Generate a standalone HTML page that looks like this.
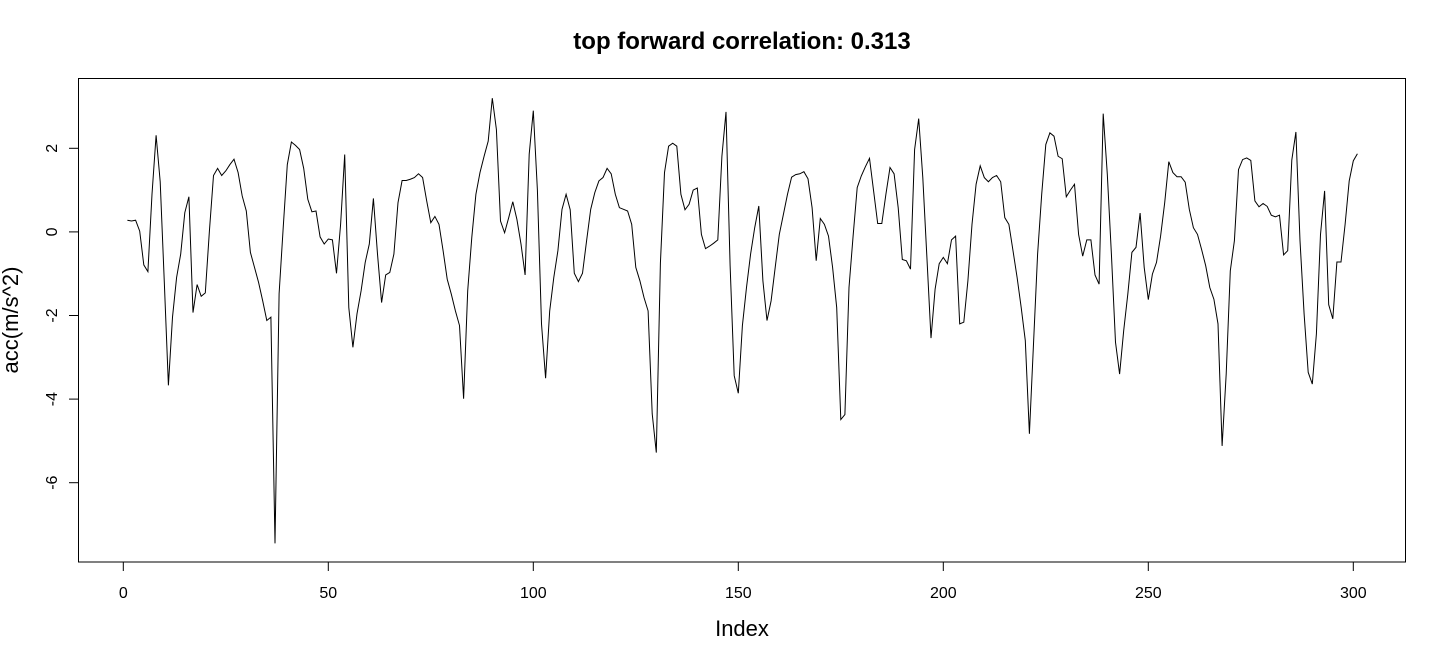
<!DOCTYPE html>
<html><head><meta charset="utf-8">
<style>
html,body{margin:0;padding:0;background:#fff;}
svg{display:block;font-family:"Liberation Sans",Arial,sans-serif;}
</style></head>
<body>
<svg id="chart" width="1446" height="660" viewBox="0 0 1446 660" xmlns="http://www.w3.org/2000/svg">
<text x="742" y="49" text-anchor="middle" font-size="24" font-weight="bold">top forward correlation: 0.313</text>
<rect x="78.5" y="78.5" width="1327" height="483.5" fill="none" stroke="#000" stroke-width="1"/>
<g id="xaxis"></g>
<g id="yaxis"></g>
<text x="742" y="636" text-anchor="middle" font-size="22">Index</text>
<text transform="translate(18,320) rotate(-90)" text-anchor="middle" font-size="22">acc(m/s^2)</text>
<path id="series" fill="none" stroke="#000" stroke-width="1"/>
</svg>
<script>
const accValues = [
0.28,0.26,0.28,0.02,-0.79,-0.95,0.9,2.31,1.2,-1.2,-3.67,-2.04,-1.09,-0.53,0.46,0.84,-1.93,-1.26,-1.54,-1.46,
0.02,1.35,1.52,1.35,1.46,1.61,1.74,1.42,0.86,0.5,-0.49,-0.85,-1.21,-1.65,-2.12,-2.04,-7.45,-1.48,0.1,1.61,
2.15,2.07,1.97,1.52,0.78,0.48,0.5,-0.12,-0.29,-0.17,-0.19,-0.99,0.18,1.85,-1.81,-2.76,-1.96,-1.41,-0.73,-0.29,
0.8,-0.53,-1.69,-1.03,-0.97,-0.53,0.7,1.23,1.23,1.26,1.3,1.39,1.3,0.74,0.22,0.37,0.18,-0.45,-1.13,-1.49,
-1.89,-2.24,-3.99,-1.41,-0.13,0.9,1.42,1.81,2.17,3.2,2.45,0.26,-0.02,0.34,0.72,0.3,-0.29,-1.03,1.86,2.9,
1.0,-2.2,-3.5,-1.89,-1.09,-0.45,0.54,0.9,0.53,-0.99,-1.19,-0.99,-0.21,0.54,0.94,1.22,1.3,1.52,1.39,0.9,
0.58,0.54,0.5,0.18,-0.85,-1.17,-1.57,-1.89,-4.35,-5.28,-0.75,1.42,2.05,2.12,2.05,0.9,0.53,0.66,1.0,1.05,
-0.06,-0.4,-0.34,-0.27,-0.19,1.81,2.87,-0.8,-3.44,-3.86,-2.24,-1.33,-0.53,0.1,0.62,-1.17,-2.12,-1.65,-0.85,-0.06,
0.42,0.9,1.31,1.37,1.39,1.44,1.27,0.58,-0.69,0.32,0.18,-0.1,-0.85,-1.81,-4.49,-4.37,-1.33,-0.1,1.06,1.34,
1.56,1.76,0.98,0.2,0.2,0.9,1.54,1.39,0.58,-0.66,-0.69,-0.89,1.97,2.71,1.3,-0.61,-2.54,-1.37,-0.76,-0.61,
-0.76,-0.19,-0.1,-2.2,-2.16,-1.17,0.18,1.14,1.58,1.3,1.2,1.3,1.35,1.2,0.34,0.18,-0.45,-1.09,-1.81,-2.6,
-4.83,-2.68,-0.53,0.9,2.09,2.37,2.29,1.81,1.75,0.84,1.0,1.14,-0.06,-0.58,-0.19,-0.19,-1.03,-1.25,2.83,1.38,
-0.53,-2.64,-3.4,-2.36,-1.49,-0.49,-0.37,0.45,-0.85,-1.62,-1.01,-0.73,-0.1,0.7,1.68,1.42,1.32,1.32,1.19,0.54,
0.1,-0.06,-0.42,-0.81,-1.33,-1.61,-2.2,-5.12,-3.4,-0.93,-0.21,1.49,1.73,1.77,1.71,0.74,0.6,0.68,0.61,0.4,
0.36,0.4,-0.55,-0.45,1.72,2.39,-0.21,-1.96,-3.36,-3.64,-2.44,-0.06,0.98,-1.74,-2.08,-0.72,-0.72,0.18,1.22,1.7,
1.87];
const xTicks = [0,50,100,150,200,250,300];
const yTicks = [-6,-4,-2,0,2];

const X0=123.3, XS=(1353.3-123.3)/300;
const Y0=231.9, YS=41.8;
function xScale(i){return X0+XS*i;}
function yScale(v){return Y0-YS*v;}
const NS='http://www.w3.org/2000/svg';

let d='';
accValues.forEach((v,k)=>{d+=(k?'L':'M')+xScale(k+1).toFixed(2)+','+yScale(v).toFixed(2);});
document.getElementById('series').setAttribute('d',d);

const xa=document.getElementById('xaxis');
const xl=document.createElementNS(NS,'line');


xl.setAttribute('x1',xScale(xTicks[0]));xl.setAttribute('x2',xScale(xTicks[xTicks.length-1]));
xl.setAttribute('y1',562);xl.setAttribute('y2',562);xl.setAttribute('stroke','#000');
xa.appendChild(xl);
xTicks.forEach(t=>{
  const ln=document.createElementNS(NS,'line');
  
  
  ln.setAttribute('x1',xScale(t));ln.setAttribute('x2',xScale(t));
  ln.setAttribute('y1',562);ln.setAttribute('y2',571);ln.setAttribute('stroke','#000');
  xa.appendChild(ln);
  const tx=document.createElementNS(NS,'text');
  
  
  tx.setAttribute('x',xScale(t));tx.setAttribute('y',598);
  tx.setAttribute('text-anchor','middle');tx.setAttribute('font-size','16');
  tx.textContent=t;xa.appendChild(tx);
});
const ya=document.getElementById('yaxis');
const yl=document.createElementNS(NS,'line');


yl.setAttribute('x1',78.5);yl.setAttribute('x2',78.5);
yl.setAttribute('y1',yScale(yTicks[0]));yl.setAttribute('y2',yScale(yTicks[yTicks.length-1]));yl.setAttribute('stroke','#000');
ya.appendChild(yl);
yTicks.forEach(t=>{
  const ln=document.createElementNS(NS,'line');
  
  
  ln.setAttribute('x1',69);ln.setAttribute('x2',78.5);
  ln.setAttribute('y1',yScale(t));ln.setAttribute('y2',yScale(t));ln.setAttribute('stroke','#000');
  ya.appendChild(ln);
  const tx=document.createElementNS(NS,'text');
  
  
  tx.setAttribute('transform','translate(57,'+yScale(t)+') rotate(-90)');
  tx.setAttribute('text-anchor','middle');tx.setAttribute('font-size','16');
  tx.textContent=t;ya.appendChild(tx);
});
</script>
</body></html>
